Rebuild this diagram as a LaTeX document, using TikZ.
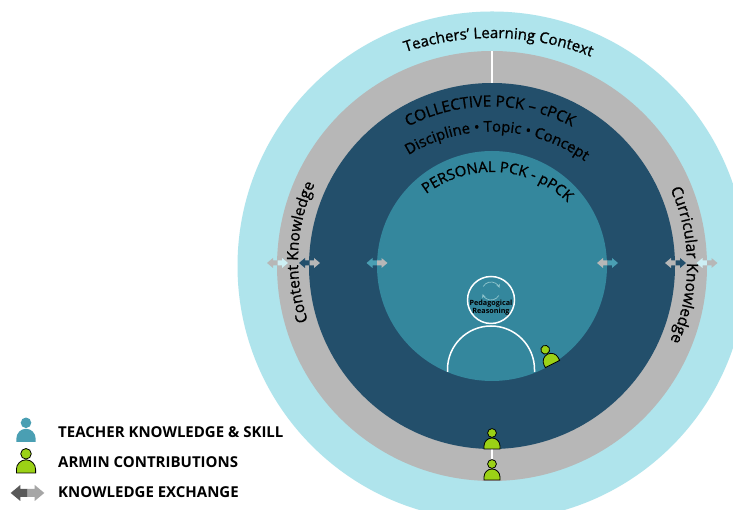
\documentclass[tikz,border=0pt]{standalone}
\usepackage{fontspec}
\usepackage{xcolor}
\setmainfont{Open Sans}
\newcommand{\legendfont}{\bfseries}
\newfontfamily\curvefont[FakeBold=1]{Open Sans}
\usetikzlibrary{decorations.text}
\definecolor{contextblue}{HTML}{AFE4EC}
\definecolor{ringgray}{HTML}{B7B7B7}
\definecolor{collectiveblue}{HTML}{234F6B}
\definecolor{personalteal}{HTML}{34879D}
\definecolor{teacherteal}{HTML}{4A9FB3}
\definecolor{arminlime}{HTML}{9BD116}
\definecolor{paleblue}{HTML}{CDEFF4}
\definecolor{cycleteal}{HTML}{8FC4CC}
\tikzset{
  person/.pic={
    \path[pic actions] (0,16) circle[radius=4.4];
    \path[pic actions] (-8,0) -- (-8,3) arc[start angle=180,end angle=0,radius=8] -- (8,0) -- cycle;
  },
  pics/exchange/.style 2 args={code={
    \fill[#1] (0,-2.5) -- (-4.5,-2.5) -- (-4.5,-5) -- (-10.5,0) -- (-4.5,5) -- (-4.5,2.5) -- (0,2.5) -- cycle;
    \fill[#2] (0,-2.5) -- (4.5,-2.5) -- (4.5,-5) -- (10.5,0) -- (4.5,5) -- (4.5,2.5) -- (0,2.5) -- cycle;
  }},
  arc label/.style 2 args={postaction={decorate},decoration={text along path,text align=center,
    text={|\fontsize{#1}{#1}\curvefont|#2}}}
}
\begin{document}
\begin{tikzpicture}[x=1pt,y=1pt]
    \tikzstyle{ring}=[circle,inner sep=0]
    \tikzstyle{armin}=[fill=arminlime,draw=black,line width=0.8pt]
    \tikzstyle{teacher}=[fill=teacherteal]
    \tikzstyle{divider}=[white,line width=1.6pt]
    \tikzstyle{legend text}=[anchor=west,font=\fontsize{15}{15}\selectfont\legendfont,inner sep=0]
    \clip (0,0) rectangle (733,510);
    \fill[white] (0,0) rectangle (733,510);
    \node(context)[ring,fill=contextblue,minimum size=509] at (492,244){};
    \node(knowledge)[ring,fill=ringgray,minimum size=430] at (492,244){};
    \node(collective)[ring,fill=collectiveblue,minimum size=366] at (492,244){};
    \node(personal)[ring,fill=personalteal,minimum size=230] at (492,244){};
    \coordinate(armin outer head) at (492,46);
    \draw[divider] (knowledge.north) -- (collective.north);
    \draw[divider] (collective.south) -- (armin outer head);
    \node(reasoning)[ring,draw=white,line width=1.5pt,minimum size=47] at (491,210){};
    \draw[white,line width=1.5pt] (447.5,138) -- (447.5,140.5) arc[start angle=180,end angle=0,radius=43.5] -- (534.5,138);
    \node(reasoning label)[align=center,inner sep=0,font=\fontsize{7.2}{8}\selectfont\legendfont] at (491,202){Pedagogical\\Reasoning};
    \draw[cycleteal,line width=0.7pt,-stealth] ([shift={(150:9)}]491,219) arc[start angle=150,end angle=20,radius=9];
    \draw[cycleteal,line width=0.7pt,-stealth] ([shift={(-30:9)}]491,219) arc[start angle=-30,end angle=-160,radius=9];
    \path[arc label={15}{Teachers’ Learning Context}] ([shift={(123.6:272)}]492,200) arc[start angle=123.6,end angle=53.6,radius=272];
    \path[arc label={15.4}{COLLECTIVE PCK – cPCK}] ([shift={(135:176.5)}]490,227) arc[start angle=135,end angle=45,radius=176.5];
    \path[arc label={14.8}{Discipline • Topic • Concept}] ([shift={(133:160)}]492,218.4) arc[start angle=133,end angle=43,radius=160];
    \path[arc label={14.8}{PERSONAL PCK - pPCK}] ([shift={(156.6:109)}]492,229) arc[start angle=156.6,end angle=16.6,radius=109];
    \path[arc label={15.4}{Content Knowledge}] ([shift={(217.2:185)}]483,249) arc[start angle=217.2,end angle=137.2,radius=185];
    \path[arc label={15.6}{Curricular Knowledge}] ([shift={(40:180)}]507,245) arc[start angle=40,end angle=-40,radius=180];
    \pic(exchange a) at (277.5,247){exchange={ringgray}{paleblue}};
    \pic(exchange b) at (309.5,247){exchange={collectiveblue}{ringgray}};
    \pic(exchange c) at (377,247){exchange={teacherteal}{ringgray}};
    \pic(exchange d) at (607.5,247){exchange={ringgray}{teacherteal}};
    \pic(exchange e) at (675.5,247){exchange={ringgray}{collectiveblue}};
    \pic(exchange f) at (707,247){exchange={paleblue}{ringgray}};
    \pic(armin inner)[armin,rotate=27] at (552.5,146){person};
    \pic(armin middle)[armin] at (492,61){person};
    \pic(armin outer)[armin] at (492,30){person};
    \pic(legend teacher)[teacher,scale=1.2] at (26,68){person};
    \pic(legend armin)[armin,scale=1.2] at (26,37){person};
    \pic(legend exchange)[scale=1.6] at (27.5,17){exchange={black!65}{black!35}};
    \node(teacher text)[legend text] at (58,78){TEACHER KNOWLEDGE \& SKILL};
    \node(armin text)[legend text] at (58,48){ARMIN CONTRIBUTIONS};
    \node(exchange text)[legend text] at (58,18){KNOWLEDGE EXCHANGE};
\end{tikzpicture}
\end{document}
